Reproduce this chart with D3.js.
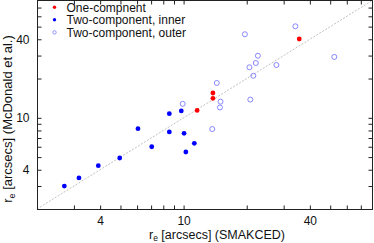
<!DOCTYPE html>
<html><head><meta charset="utf-8">
<script src="https://cdn.jsdelivr.net/npm/d3@7"></script>
<style>body{margin:0;background:#fff}svg{display:block}text{font-family:"Liberation Sans",Arial,sans-serif;}</style>
</head><body><svg id="c" width="374" height="243"></svg>
<script>
// One-component galaxies [SMAKCED, McDonald]
const oneX = [11.6, 13.8, 13.8, 35.6];
const oneY = [11.4, 15.5, 14.1, 40.2];
// Two-component, inner
const innerX = [2.7, 3.17, 3.92, 4.96, 6.06, 7.05, 8.55, 8.55, 9.75, 10.05, 10.25, 11.25];
const innerY = [3.0, 3.46, 4.30, 4.92, 8.25, 6.0, 10.75, 7.8, 11.3, 7.6, 5.47, 6.38];
// Two-component, outer
const outerX = [9.9, 13.7, 14.4, 15.0, 14.9, 20.8, 21.5, 20.6, 22.1, 22.6, 27.7, 19.6, 34.1, 52.3];
const outerY = [12.8, 8.2, 18.5, 13.3, 12.0, 13.8, 21.0, 24.4, 26.3, 29.9, 25.4, 43.7, 50.3, 29.3];
const majorTicks = [4, 10, 40];
const minorTicks = [3, 4, 5, 6, 7, 8, 9, 10, 20, 30, 40, 50, 60, 70];
const legendLabels = ["One-compnent", "Two-component, inner", "Two-component, outer"];
const domain = [2, 80];

(function () {
const svg = d3.select("#c");
const L = 37, R = 373, T = 0, B = 209;
const x = d3.scaleLog().domain(domain).range([L, R]);
const y = d3.scaleLog().domain(domain).range([B, T]);
const axisCol = "#222";

// diagonal
svg.append("line").attr("x1", x(domain[0])).attr("y1", y(domain[0]))
  .attr("x2", x(domain[1])).attr("y2", y(domain[1]))
  .attr("stroke", "#b0b0b0").attr("stroke-width", 0.8).attr("stroke-dasharray", "2,1.5");

// frame
svg.append("rect").attr("x", L + 0.5).attr("y", T + 0.5).attr("width", R - L - 1).attr("height", B - T)
  .attr("fill", "none").attr("stroke", axisCol).attr("stroke-width", 1);

// axes with inward ticks
const fmt = d => majorTicks.includes(d) ? String(d) : "";
const axB = d3.axisBottom(x).tickValues(minorTicks).tickSize(-4).tickPadding(7).tickFormat(fmt);
const axT = d3.axisTop(x).tickValues(minorTicks).tickSize(-4).tickFormat("");
const axL = d3.axisLeft(y).tickValues(minorTicks).tickSize(-4).tickPadding(8).tickFormat(fmt);
const axR = d3.axisRight(y).tickValues(minorTicks).tickSize(-4).tickFormat("");
function style(g) {
  g.select(".domain").remove();
  g.selectAll(".tick line").attr("stroke", axisCol);
  g.selectAll("text").attr("font-size", 12).attr("fill", "#111").attr("font-family", "Liberation Sans, Arial, sans-serif");
}
svg.append("g").attr("transform", `translate(0,${B + 0.5})`).call(axB).call(style);
svg.append("g").attr("transform", `translate(0,${T + 0.5})`).call(axT).call(style);
svg.append("g").attr("transform", `translate(${L + 0.5},0)`).call(axL).call(style);
svg.append("g").attr("transform", `translate(${R - 0.5},0)`).call(axR).call(style);

// points
svg.append("g").selectAll("circle").data(d3.zip(outerX, outerY)).join("circle")
  .attr("cx", d => x(d[0])).attr("cy", d => y(d[1])).attr("r", 2.5)
  .attr("fill", "none").attr("stroke", "#7a7aff").attr("stroke-width", 0.9);
svg.append("g").selectAll("circle").data(d3.zip(innerX, innerY)).join("circle")
  .attr("cx", d => x(d[0])).attr("cy", d => y(d[1])).attr("r", 2.4).attr("fill", "#0000ff");
svg.append("g").selectAll("circle").data(d3.zip(oneX, oneY)).join("circle")
  .attr("cx", d => x(d[0])).attr("cy", d => y(d[1])).attr("r", 2.4).attr("fill", "#ff0000");

// legend
const lg = svg.append("g");
const lx = 54.5, ly0 = 7.2, dy = 12.6;
legendLabels.forEach((t, i) => {
  const cy = ly0 + i * dy;
  if (i < 2) lg.append("circle").attr("cx", lx).attr("cy", cy).attr("r", 1.7).attr("fill", i === 0 ? "#ff0000" : "#0000ff");
  else lg.append("circle").attr("cx", lx).attr("cy", cy).attr("r", 1.7).attr("fill", "none").attr("stroke", "#7a7aff").attr("stroke-width", 0.8);
  lg.append("text").attr("x", 66.5).attr("y", cy + 4.3).attr("font-size", 12).attr("fill", "#111").text(t);
});

// axis titles
const xt = svg.append("text").attr("x", 217).attr("y", 238.5).attr("text-anchor", "middle").attr("font-size", 12.5).attr("fill", "#111");
xt.append("tspan").text("r");
xt.append("tspan").attr("font-size", 8.5).attr("dy", 2.8).text("e");
xt.append("tspan").attr("dy", -2.8).text(" [arcsecs] (SMAKCED)");
const yt = svg.append("text").attr("transform", "translate(12,119) rotate(-90)").attr("text-anchor", "middle").attr("font-size", 13).attr("fill", "#111");
yt.append("tspan").text("r");
yt.append("tspan").attr("font-size", 9).attr("dy", 2.8).text("e");
yt.append("tspan").attr("dy", -2.8).text(" [arcsecs] (McDonald et al.)");
})();
</script></body></html>
